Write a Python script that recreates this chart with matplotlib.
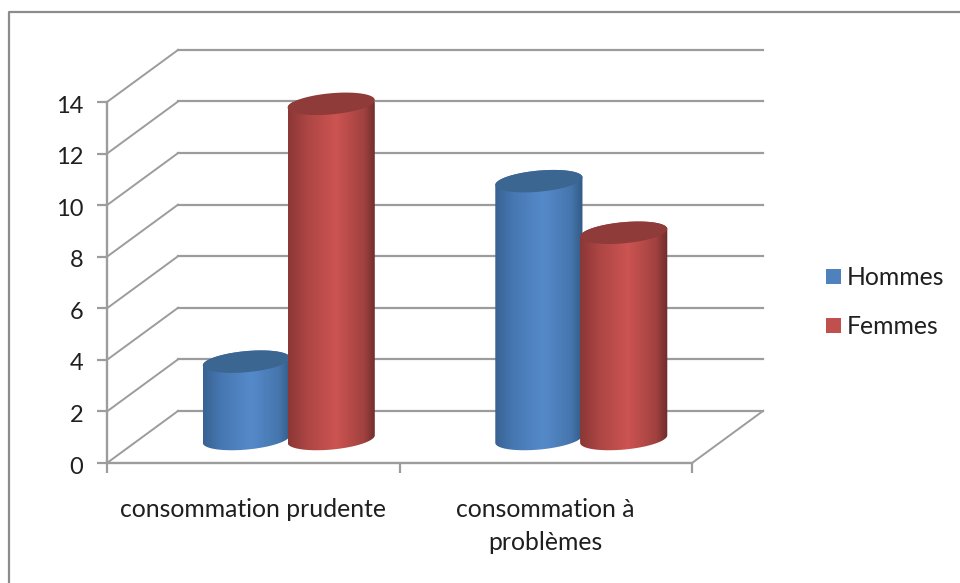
#!/usr/bin/env python3
"""Cylinder bar chart of consumption type by sex, drawn with a fake 3D frame."""

import matplotlib

matplotlib.use("Agg")

import matplotlib.pyplot as plt
import numpy as np
from matplotlib.colors import LinearSegmentedColormap
from matplotlib.lines import Line2D
from matplotlib.patches import Patch, PathPatch, Polygon
from matplotlib.path import Path
from matplotlib.transforms import ScaledTranslation

categories = ["consommation prudente", "consommation à\nproblèmes"]
series_names = ["Hommes", "Femmes"]
hommes = [3, 10]
femmes = [13, 8]
y_ticks = [0, 2, 4, 6, 8, 10, 12, 14]

plt.rcParams["font.family"] = ["Lato", "DejaVu Sans"]

GRID = "#9c9c9c"
TEXT = "#1f1f1f"
FONT_SIZE = 17.8

# depth of the floor, in axis units (one category wide, one value high)
DEPTH_X = 0.243
DEPTH_Y = 2.02

BAR_OFFSET = 0.145
BAR_RX = 0.149
BAR_RY = 0.41
BAR_TILT = 0.147

STYLES = {
	"Hommes": {
		"flat": "#4f81bd",
		"top": "#3b6692",
		"ramp": [(0.0, "#386291"), (0.2, "#4677b2"), (0.55, "#558aca"), (0.87, "#4575ac"), (1.0, "#315a86")],
	},
	"Femmes": {
		"flat": "#c0504d",
		"top": "#8f3b39",
		"ramp": [(0.0, "#8a3735"), (0.22, "#ad4644"), (0.55, "#cc5451"), (0.87, "#a04140"), (1.0, "#6d2c2b")],
	},
}


def ellipse_points(cx, cy, start, stop, n=60):
	t = np.linspace(start, stop, n)
	x = cx + BAR_RX * np.cos(t)
	y = cy + BAR_RY * np.sin(t) + BAR_TILT * np.cos(t)
	return np.column_stack([x, y])


def draw_cylinder(ax, cx, value, style, zorder):
	base_y = DEPTH_Y / 2 - 0.08
	top_y = base_y + value

	# side of the cylinder: upper rim, then the lower half of the base ellipse
	rim = ellipse_points(cx, top_y, 0, np.pi)
	base = ellipse_points(cx, base_y, np.pi, 2 * np.pi)
	body = Polygon(np.vstack([rim, base]), closed=True, transform=ax.transData, facecolor="none", edgecolor="none")
	ax.add_patch(body)

	cmap = LinearSegmentedColormap.from_list("side", style["ramp"])
	ramp = np.linspace(0, 1, 256).reshape(1, -1)
	img = ax.imshow(
		ramp,
		cmap=cmap,
		extent=(cx - BAR_RX, cx + BAR_RX, base_y - 1, top_y + 1),
		aspect="auto",
		zorder=zorder,
		clip_on=True,
	)
	img.set_clip_path(body)

	lid = Path(ellipse_points(cx, top_y, 0, 2 * np.pi, 120))
	ax.add_patch(PathPatch(lid, facecolor=style["top"], edgecolor="none", zorder=zorder + 0.1, clip_on=False))


fig = plt.figure(figsize=(9.6, 5.83), dpi=100, facecolor="white")
ax = fig.add_axes([107 / 960, (583 - 463) / 583, (692 - 107) / 960, (463 - 102) / 583])
ax.patch.set_alpha(0)

# back wall and side wall gridlines
for v in y_ticks:
	ax.plot([DEPTH_X, 2 + DEPTH_X], [v + DEPTH_Y, v + DEPTH_Y], color=GRID, lw=1.6, clip_on=False, zorder=1)
	ax.plot([0, DEPTH_X], [v, v + DEPTH_Y], color=GRID, lw=1.4, clip_on=False, zorder=1)
ax.plot([2, 2 + DEPTH_X], [0, DEPTH_Y], color=GRID, lw=1.4, clip_on=False, zorder=1)

for i in range(len(categories)):
	center = i + 0.5 + DEPTH_X / 2
	draw_cylinder(ax, center - BAR_OFFSET, hommes[i], STYLES["Hommes"], 3)
	draw_cylinder(ax, center + BAR_OFFSET, femmes[i], STYLES["Femmes"], 4)

ax.set_xlim(0, 2)
ax.set_ylim(0, 14)

ax.set_yticks(y_ticks)
ax.set_xticks([0, 1, 2])
ax.set_xticklabels([])
ax.set_xticks([0.5, 1.5], labels=categories, minor=True)
ax.tick_params(axis="y", length=7, width=1.6, color=GRID, labelsize=17, labelcolor=TEXT, pad=10)
ax.tick_params(axis="x", which="major", length=7, width=1.6, color=GRID)
ax.tick_params(axis="x", which="minor", length=0, labelsize=FONT_SIZE, labelcolor=TEXT, pad=25)
for label in ax.get_xticklabels(minor=True):
	label.set_linespacing(1.55)
nudge = ScaledTranslation(0, -1.5 / 72, fig.dpi_scale_trans)
for label in ax.get_yticklabels():
	label.set_verticalalignment("center_baseline")
	label.set_transform(label.get_transform() + nudge)

for side in ("top", "right"):
	ax.spines[side].set_visible(False)
for side in ("left", "bottom"):
	ax.spines[side].set_color(GRID)
	ax.spines[side].set_linewidth(1.7)

handles = [Patch(facecolor=STYLES[name]["flat"], edgecolor="none", label=name) for name in series_names]
fig.legend(
	handles=handles,
	loc="center left",
	bbox_to_anchor=(804 / 960, (583 - 302) / 583),
	frameon=False,
	fontsize=FONT_SIZE,
	labelcolor=TEXT,
	handlelength=0.58,
	handleheight=0.58,
	handletextpad=0.25,
	labelspacing=1.05,
)

# outer frame of the chart area
frame_x = [9 / 960, 9 / 960, 1]
frame_y = [0, (583 - 12) / 583, (583 - 12) / 583]
fig.add_artist(Line2D(frame_x, frame_y, color="#8c8c8c", lw=1.6, transform=fig.transFigure))

fig.savefig("out.png", dpi=100)
